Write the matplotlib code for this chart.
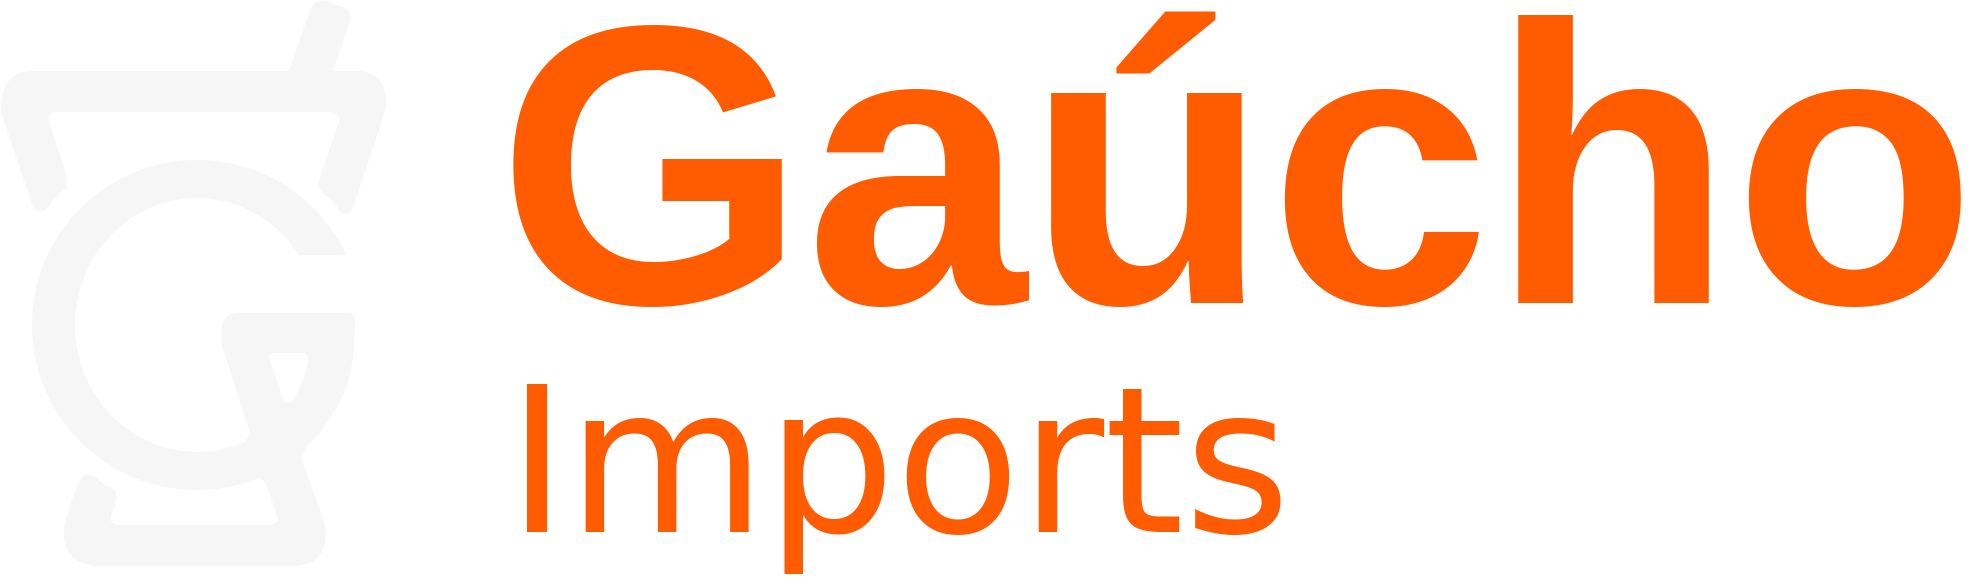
import numpy as np
import matplotlib
matplotlib.use("Agg")
import matplotlib.pyplot as plt
from matplotlib.path import Path
from matplotlib.patches import PathPatch
from matplotlib.textpath import TextPath
from matplotlib.font_manager import FontProperties

W, H, DPI = 1973, 586, 100

# brand texts and colours
wordmark = "Gaúcho"
tagline = "Imports"
orange = "#FF5B00"
icon_grey = "#F6F6F6"

# where the words sit in the picture (ink left, ink right, baseline), in px
wordmark_box = (513, 1962, 303)
tagline_box = (527, 1281, 532)


def build(cmds):
    verts, codes = [], []
    for c in cmds:
        if c[0] == "M":
            verts.append(c[1]); codes.append(Path.MOVETO)
        elif c[0] == "L":
            verts.append(c[1]); codes.append(Path.LINETO)
        elif c[0] == "Q":
            verts += [c[1], c[2]]; codes += [Path.CURVE3, Path.CURVE3]
    verts.append(verts[0]); codes.append(Path.CLOSEPOLY)
    return Path(verts, codes)


# cup rim, arms and straw
rim = build([
    ("M", (1, 112)), ("Q", (0, 71), (32, 71)),
    ("L", (289, 71)), ("L", (310, 10)), ("Q", (314, -1), (326, 1)),
    ("L", (343, 7)), ("Q", (353, 12), (350, 21)), ("L", (333, 71)),
    ("L", (356, 71)), ("Q", (388, 71), (386, 108)),
    ("L", (353, 208)), ("Q", (349, 216), (341, 213)),
    ("Q", (336, 204), (325, 195)), ("Q", (316, 188), (319, 180)),
    ("L", (339, 122)), ("Q", (341, 112), (331, 112)),
    ("L", (54, 112)), ("Q", (47, 112), (49, 122)),
    ("L", (58, 150)), ("Q", (70, 182), (66, 189)),
    ("Q", (58, 193), (50, 205)), ("Q", (41, 217), (33, 207)),
])

# big G ring
cx, cy = 197, 325
a_out = np.radians(np.linspace(-25.1, -292, 120))
a_in = np.radians(np.linspace(-296, -33.4, 120))
outer = np.c_[cx + 165 * np.cos(a_out), cy + 165 * np.sin(a_out)]
inner = np.c_[cx + 122 * np.cos(a_in), cy + 127 * np.sin(a_in)]
ring_pts = np.vstack([outer, inner, outer[:1]])
ring = Path(ring_pts, [Path.MOVETO] + [Path.LINETO] * (len(ring_pts) - 2) + [Path.CLOSEPOLY])

# crossbar, stem and foot
stem = build([
    ("M", (238, 313)), ("L", (348, 313)), ("Q", (355, 313), (355, 322)),
    ("L", (354, 345)), ("Q", (352, 385), (333, 413)),
    ("Q", (322, 432), (308, 445)), ("Q", (300, 453), (302, 460)),
    ("L", (325, 525)), ("Q", (330, 566), (293, 566)),
    ("L", (95, 566)), ("Q", (62, 562), (64, 530)),
    ("Q", (67, 510), (80, 480)), ("Q", (85, 471), (95, 477)),
    ("Q", (103, 485), (112, 488)), ("Q", (120, 492), (114, 508)),
    ("Q", (106, 524), (118, 525)), ("L", (270, 525)),
    ("Q", (280, 524), (277, 515)), ("L", (266, 484)),
    ("Q", (263, 477), (256, 478)), ("L", (238, 455)),
    ("L", (250, 433)), ("L", (222, 345)), ("Q", (218, 313), (238, 313)),
])

hole = build([
    ("M", (269, 357)), ("Q", (269, 353), (275, 353)), ("L", (304, 353)),
    ("Q", (309, 354), (308, 362)), ("Q", (305, 380), (293, 400)),
    ("Q", (288, 406), (283, 400)),
])

fig = plt.figure(figsize=(W / DPI, H / DPI), dpi=DPI)
ax = fig.add_axes([0, 0, 1, 1])
ax.set_xlim(0, W)
ax.set_ylim(H, 0)
ax.axis("off")

for p in (rim, ring, stem):
    ax.add_patch(PathPatch(p, facecolor=icon_grey, edgecolor="none"))
ax.add_patch(PathPatch(hole, facecolor="white", edgecolor="none"))


def fit_text(s, box, fp):
    left, right, base = box
    ext = TextPath((0, 0), s, size=100, prop=fp).get_extents()
    k = (right - left) / (ext.x1 - ext.x0)
    size_pt = 100 * k * 72 / DPI
    ax.text(left - ext.x0 * k, base, s, fontproperties=fp, fontsize=size_pt,
            color=orange, ha="left", va="baseline")


fit_text(wordmark, wordmark_box, FontProperties(family="Liberation Sans", weight="bold"))
fit_text(tagline, tagline_box, FontProperties(family="DejaVu Sans", weight="normal"))

fig.savefig("out.png", dpi=DPI, facecolor="white")
